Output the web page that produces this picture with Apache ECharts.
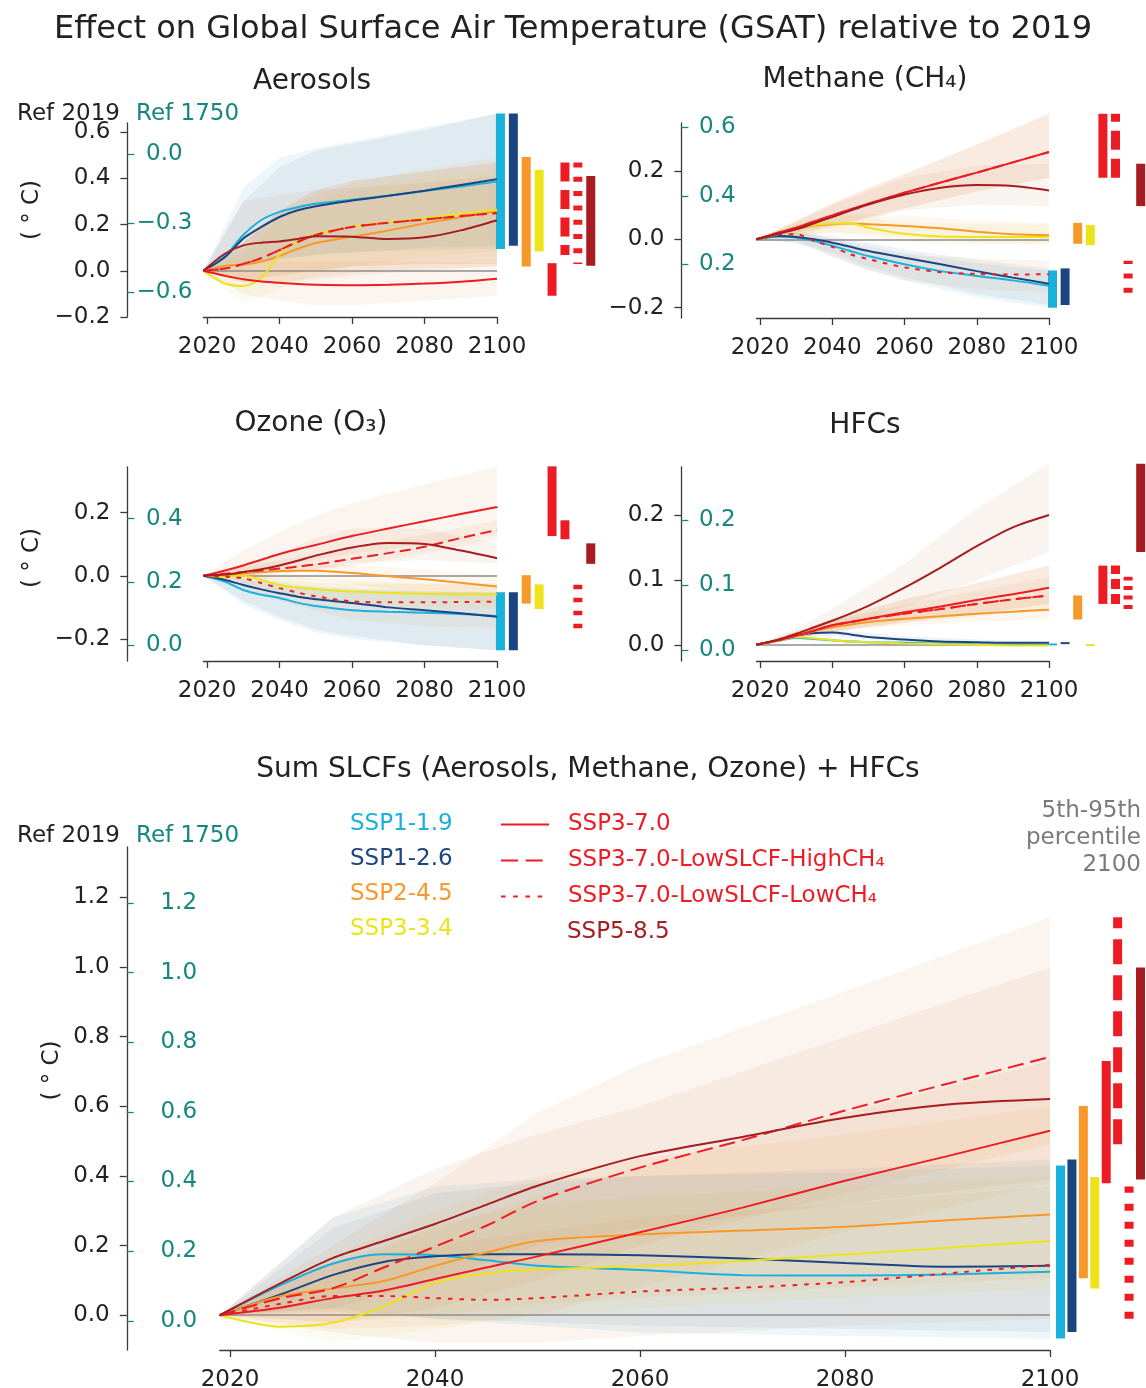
<!DOCTYPE html>
<html>
<head>
<meta charset="utf-8">
<script src="https://cdn.jsdelivr.net/npm/echarts@6/dist/echarts.min.js"></script>
<style>html,body{margin:0;padding:0;background:#fff}#c{width:1146px;height:1388px}</style>
</head>
<body>
<div id="c"></div>
<script>
// ---------------- DATA ----------------
const SCENARIOS = ['SSP1-1.9','SSP1-2.6','SSP2-4.5','SSP3-3.4','SSP3-7.0','SSP3-7.0-LowSLCF-HighCH\u2084','SSP3-7.0-LowSLCF-LowCH\u2084','SSP5-8.5'];
const YEARS = [2019,2025,2030,2035,2040,2045,2050,2060,2070,2080,2090,2100];
const BAND_YEARS = [2019,2030,2040,2050,2060,2080,2100];
const X_TICKS = [2020,2040,2060,2080,2100];

// Aerosols
const AER_LINES = [
 [0,0.065,0.155,0.22,0.255,0.275,0.29,0.308,0.325,0.345,0.365,0.387],
 [0,0.06,0.14,0.19,0.233,0.262,0.28,0.304,0.325,0.347,0.372,0.397],
 [0,0.022,0.027,0.04,0.065,0.095,0.12,0.147,0.175,0.205,0.232,0.259],
 [0,-0.055,-0.066,-0.03,0.07,0.13,0.158,0.19,0.21,0.228,0.247,0.264],
 [0,-0.022,-0.037,-0.046,-0.052,-0.057,-0.06,-0.062,-0.06,-0.055,-0.047,-0.034],
 [0,0.01,0.03,0.055,0.09,0.125,0.155,0.19,0.208,0.222,0.237,0.25],
 [0,0.01,0.03,0.055,0.09,0.125,0.155,0.19,0.208,0.222,0.237,0.25],
 [0,0.075,0.11,0.122,0.127,0.138,0.15,0.148,0.138,0.145,0.175,0.219]
];
const AER_BAND_HI = [
 [0,0.36,0.49,0.53,0.56,0.62,0.681],
 [0,0.3,0.45,0.52,0.55,0.61,0.681],
 [0,0.12,0.25,0.33,0.38,0.44,0.493],
 [0,0.08,0.22,0.3,0.35,0.4,0.437],
 [0,0.04,0.04,0.04,0.04,0.04,0.033],
 [0,0.12,0.26,0.35,0.39,0.43,0.469],
 [0,0.12,0.26,0.35,0.39,0.43,0.469],
 [0,0.3,0.33,0.35,0.36,0.38,0.41]
];
const AER_BAND_LO = [
 [0,0.03,0.05,0.07,0.08,0.09,0.094],
 [0,0.02,0.05,0.07,0.08,0.1,0.108],
 [0,-0.05,-0.05,-0.03,-0.01,0.01,0.019],
 [0,-0.14,-0.08,-0.02,0.02,0.06,0.084],
 [0,-0.1,-0.13,-0.15,-0.15,-0.13,-0.108],
 [0,-0.04,-0.02,0,0.02,0.03,0.03],
 [0,-0.04,-0.02,0,0.02,0.03,0.03],
 [0,-0.05,-0.05,-0.04,-0.02,0,0.022]
];
const AER_BAR_LO = [0.094,0.108,0.019,0.084,-0.108,0.068,0.029,0.022];
const AER_BAR_HI = [0.681,0.681,0.493,0.437,0.033,0.469,0.469,0.41];
const AER_YTICKS = [-0.2,0,0.2,0.4,0.6];
const AER_REF_TICKS = [-0.6,-0.3,0];
const AER_REF_OFFSET = -0.506;

// Methane
const CH4_LINES = [
 [0,0.008,0.005,-0.005,-0.019,-0.034,-0.049,-0.073,-0.093,-0.107,-0.12,-0.136],
 [0,0.01,0.007,0,-0.01,-0.022,-0.034,-0.054,-0.073,-0.093,-0.112,-0.13],
 [0,0.015,0.029,0.04,0.044,0.046,0.044,0.039,0.032,0.022,0.015,0.012],
 [0,0.018,0.034,0.042,0.046,0.047,0.034,0.016,0.008,0.007,0.007,0.007],
 [0,0.019,0.034,0.052,0.07,0.087,0.104,0.136,0.166,0.195,0.225,0.255],
 [0,0.019,0.034,0.052,0.07,0.087,0.104,0.136,0.166,0.195,0.225,0.255],
 [0,0.015,0.015,-0.005,-0.022,-0.044,-0.058,-0.082,-0.096,-0.101,-0.103,-0.102],
 [0,0.016,0.029,0.047,0.065,0.084,0.102,0.131,0.151,0.159,0.156,0.143]
];
const CH4_BAND_HI = [
 [0,0.02,0,-0.02,-0.04,-0.07,-0.091],
 [0,0.02,0.01,-0.01,-0.03,-0.06,-0.085],
 [0,0.045,0.07,0.075,0.07,0.055,0.048],
 [0,0.05,0.07,0.065,0.05,0.045,0.042],
 [0,0.055,0.105,0.15,0.19,0.277,0.367],
 [0,0.055,0.105,0.15,0.19,0.277,0.367],
 [0,0.03,0,-0.03,-0.045,-0.055,-0.063],
 [0,0.05,0.1,0.14,0.18,0.215,0.221]
];
const CH4_BAND_LO = [
 [0,-0.01,-0.05,-0.09,-0.12,-0.17,-0.2],
 [0,-0.01,-0.04,-0.08,-0.11,-0.16,-0.192],
 [0,0.01,0.02,0.015,0.005,-0.01,-0.013],
 [0,0.01,0.02,0.005,-0.01,-0.015,-0.017],
 [0,0.02,0.04,0.065,0.09,0.14,0.18],
 [0,0.02,0.04,0.065,0.09,0.14,0.18],
 [0,0,-0.05,-0.09,-0.12,-0.145,-0.156],
 [0,0.01,0.035,0.06,0.085,0.1,0.097]
];
const CH4_BAR_LO = [-0.2,-0.192,-0.013,-0.017,0.18,0.18,-0.156,0.097];
const CH4_BAR_HI = [-0.091,-0.085,0.048,0.042,0.367,0.367,-0.063,0.221];
const CH4_YTICKS = [-0.2,0,0.2];
const CH4_REF_TICKS = [0.2,0.4,0.6];
const CH4_REF_OFFSET = 0.273;

// Ozone
const O3_LINES = [
 [0,-0.019,-0.045,-0.06,-0.07,-0.085,-0.096,-0.109,-0.114,-0.117,-0.121,-0.127],
 [0,-0.013,-0.029,-0.043,-0.055,-0.066,-0.074,-0.086,-0.1,-0.109,-0.119,-0.13],
 [0,0.003,0.007,0.012,0.015,0.016,0.016,0.009,-0.001,-0.011,-0.022,-0.034],
 [0,-0.003,0,-0.013,-0.029,-0.037,-0.042,-0.05,-0.054,-0.057,-0.058,-0.058],
 [0,0.017,0.033,0.051,0.069,0.084,0.098,0.126,0.15,0.173,0.196,0.218],
 [0,0.007,0.012,0.017,0.023,0.029,0.036,0.054,0.072,0.092,0.12,0.145],
 [0,-0.003,-0.008,-0.023,-0.039,-0.053,-0.065,-0.081,-0.084,-0.084,-0.083,-0.082],
 [0,0.004,0.012,0.021,0.033,0.048,0.064,0.09,0.104,0.101,0.08,0.056]
];
const O3_BAND_HI = [
 [0,-0.01,-0.03,-0.04,-0.045,-0.05,-0.052],
 [0,-0.005,-0.02,-0.035,-0.04,-0.05,-0.052],
 [0,0.025,0.04,0.04,0.035,0.02,0.002],
 [0,0.015,0.005,-0.01,-0.015,-0.025,-0.027],
 [0,0.08,0.14,0.19,0.23,0.29,0.347],
 [0,0.03,0.05,0.07,0.09,0.13,0.176],
 [0,0.01,-0.01,-0.02,-0.025,-0.025,-0.024],
 [0,0.03,0.07,0.12,0.15,0.15,0.103]
];
const O3_BAND_LO = [
 [0,-0.09,-0.14,-0.18,-0.2,-0.22,-0.236],
 [0,-0.08,-0.13,-0.17,-0.19,-0.22,-0.236],
 [0,-0.01,-0.01,-0.015,-0.025,-0.06,-0.088],
 [0,-0.02,-0.06,-0.08,-0.09,-0.1,-0.105],
 [0,0.01,0.03,0.05,0.07,0.1,0.126],
 [0,0,0.01,0.02,0.03,0.07,0.116],
 [0,-0.04,-0.08,-0.11,-0.14,-0.16,-0.166],
 [0,0,0.01,0.02,0.04,0.05,0.038]
];
const O3_BAR_LO = [-0.236,-0.236,-0.088,-0.105,0.126,0.116,-0.166,0.038];
const O3_BAR_HI = [-0.052,-0.052,0.002,-0.027,0.347,0.176,-0.024,0.103];
const O3_YTICKS = [-0.2,0,0.2];
const O3_REF_TICKS = [0,0.2,0.4];
const O3_REF_OFFSET = 0.219;

// HFCs
const HFC_LINES = [
 [0,0.006,0.011,0.009,0.007,0.005,0.004,0.003,0.002,0.001,0,0],
 [0,0.007,0.014,0.018,0.019,0.016,0.012,0.008,0.005,0.004,0.003,0.003],
 [0,0.007,0.014,0.021,0.027,0.031,0.035,0.04,0.044,0.048,0.051,0.054],
 [0,0.006,0.012,0.01,0.007,0.005,0.004,0.002,0.001,0,-0.001,-0.001],
 [0,0.007,0.014,0.022,0.03,0.035,0.04,0.05,0.059,0.069,0.078,0.088],
 [0,0.007,0.014,0.022,0.03,0.035,0.04,0.048,0.055,0.063,0.07,0.076],
 [0,0.007,0.014,0.022,0.03,0.035,0.04,0.048,0.055,0.063,0.07,0.076],
 [0,0.008,0.017,0.027,0.037,0.048,0.06,0.088,0.119,0.152,0.181,0.2]
];
const HFC_BAND_HI = [
 [0,0.013,0.01,0.006,0.004,0.003,0.002],
 [0,0.016,0.022,0.018,0.013,0.008,0.004],
 [0,0.02,0.035,0.046,0.055,0.067,0.076],
 [0,0.014,0.009,0.005,0.003,0.002,0.001],
 [0,0.02,0.04,0.055,0.07,0.095,0.122],
 [0,0.02,0.04,0.055,0.07,0.095,0.122],
 [0,0.02,0.038,0.05,0.062,0.083,0.105],
 [0,0.025,0.055,0.09,0.125,0.21,0.279]
];
const HFC_BAND_LO = [
 [0,0.008,0.004,0.001,0,-0.001,-0.001],
 [0,0.01,0.014,0.008,0.004,0.001,0.001],
 [0,0.01,0.02,0.026,0.03,0.035,0.039],
 [0,0.008,0.004,0.001,0,-0.002,-0.002],
 [0,0.01,0.02,0.028,0.035,0.048,0.063],
 [0,0.01,0.02,0.028,0.035,0.048,0.063],
 [0,0.01,0.02,0.027,0.033,0.044,0.055],
 [0,0.01,0.025,0.04,0.058,0.1,0.143]
];
const HFC_BAR_LO = [-0.001,0.001,0.039,-0.002,0.063,0.063,0.055,0.143];
const HFC_BAR_HI = [0.002,0.004,0.076,0.001,0.122,0.122,0.105,0.279];
const HFC_YTICKS = [0,0.1,0.2];
const HFC_REF_TICKS = [0,0.1,0.2];
const HFC_REF_OFFSET = 0.008;

// Sum SLCFs + HFCs
const SUM_LINES = [
 [0,0.087,0.148,0.175,0.172,0.158,0.142,0.13,0.115,0.114,0.117,0.125],
 [0,0.06,0.115,0.153,0.169,0.175,0.175,0.172,0.163,0.15,0.139,0.142],
 [0,0.055,0.077,0.098,0.142,0.18,0.213,0.232,0.243,0.254,0.273,0.289],
 [0,-0.033,-0.022,0.025,0.093,0.12,0.131,0.141,0.156,0.174,0.194,0.213],
 [0,0.022,0.049,0.071,0.104,0.137,0.169,0.238,0.309,0.386,0.457,0.53],
 [0,0.049,0.077,0.137,0.197,0.257,0.328,0.424,0.503,0.588,0.665,0.742],
 [0,0.033,0.055,0.055,0.049,0.044,0.049,0.068,0.079,0.095,0.12,0.145],
 [0,0.093,0.164,0.213,0.262,0.317,0.372,0.457,0.512,0.567,0.605,0.621]
];
const SUM_BAND_HI = [
 [0,0.28,0.37,0.39,0.4,0.41,0.43],
 [0,0.25,0.35,0.38,0.4,0.42,0.447],
 [0,0.17,0.3,0.4,0.45,0.52,0.601],
 [0,0.12,0.26,0.32,0.34,0.37,0.397],
 [0,0.15,0.25,0.34,0.43,0.58,0.73],
 [0,0.2,0.38,0.58,0.72,0.93,1.143],
 [0,0.15,0.2,0.24,0.28,0.32,0.37],
 [0,0.28,0.42,0.52,0.6,0.8,0.999]
];
const SUM_BAND_LO = [
 [0,0.02,-0.01,-0.03,-0.05,-0.06,-0.067],
 [0,0.01,-0.01,-0.02,-0.03,-0.04,-0.048],
 [0,-0.02,0,0.03,0.05,0.08,0.106],
 [0,-0.08,-0.04,0,0.02,0.05,0.077],
 [0,-0.04,-0.03,0,0.08,0.24,0.379],
 [0,-0.02,0.02,0.1,0.2,0.35,0.491],
 [0,-0.05,-0.08,-0.08,-0.06,-0.03,-0.01],
 [0,0.02,0.1,0.2,0.25,0.32,0.39]
];
const SUM_BAR_LO = [-0.067,-0.048,0.106,0.077,0.379,0.491,-0.01,0.39];
const SUM_BAR_HI = [0.43,0.447,0.601,0.397,0.73,1.143,0.37,0.999];
const SUM_YTICKS = [0,0.2,0.4,0.6,0.8,1.0,1.2];
const SUM_REF_TICKS = [0,0.2,0.4,0.6,0.8,1.0,1.2];
const SUM_REF_OFFSET = 0.016;

// ---------------- STYLE / LAYOUT ----------------
const FONT = "'DejaVu Sans', 'Noto Sans', sans-serif";
const INK = '#222222';
const AXIS = '#3a3a3a';
const TEAL = '#15877f';
const GREY = '#7a7a7a';
const COLORS = ['#18b1dc','#1b4580','#f7992a','#ece31b','#ed1c24','#ed1c24','#ed1c24','#a61c21'];
const BAND_COLORS = ['#58acd5','#7a8fb0','#eea04a','#e0d040','#d9864a','#d9864a','#d9864a','#c47a55'];
const BAND_ALPHAS = [0.11,0.11,0.085,0.085,0.085,0.085,0.085,0.085];
const KIND = ['solid','solid','solid','solid','solid','dashed','dotted','solid'];

const PANELS = [
 {title:'Aerosols', lines:AER_LINES, bandHi:AER_BAND_HI, bandLo:AER_BAND_LO, barLo:AER_BAR_LO, barHi:AER_BAR_HI, yTicks:AER_YTICKS, refTicks:AER_REF_TICKS, refOffset:AER_REF_OFFSET,
  L:{tx:312, ty:68, left:203.4, width:293.6, top:123, height:194, ymin:-0.2, ymax:0.64, spine:76, barLeft:494.0, barWidth:103.2, unitName:true, nameGap:84, namePad:20, refMargin:37, lineDash:[11,5.5], dotDash:[4.5,6.5], barDash:[19,8.5], barDot:[5,9.3], fromTop:true, xMargin:19}},
 {title:'Methane (CH\u2084)', lines:CH4_LINES, bandHi:CH4_BAND_HI, bandLo:CH4_BAND_LO, barLo:CH4_BAR_LO, barHi:CH4_BAR_HI, yTicks:CH4_YTICKS, refTicks:CH4_REF_TICKS, refOffset:CH4_REF_OFFSET,
  L:{tx:865, ty:66, left:756.4, width:292.6, top:123, height:195, ymin:-0.23, ymax:0.34, spine:75, barLeft:1046.2, barWidth:100.8, unitName:false, refMargin:36, lineDash:[11,5.5], dotDash:[4.5,6.5], barDash:[19,9], barDot:[5,9.3], fromTop:false, xMargin:19}},
 {title:'Ozone (O\u2083)', lines:O3_LINES, bandHi:O3_BAND_HI, bandLo:O3_BAND_LO, barLo:O3_BAR_LO, barHi:O3_BAR_HI, yTicks:O3_YTICKS, refTicks:O3_REF_TICKS, refOffset:O3_REF_OFFSET,
  L:{tx:311, ty:410, left:203.4, width:293.6, top:467, height:194, ymin:-0.27, ymax:0.345, spine:76, barLeft:494.0, barWidth:103.2, unitName:true, nameGap:84, namePad:12, refMargin:37, lineDash:[11,5.5], dotDash:[4.5,6.5], barDash:[19,8.5], barDot:[4.5,8.5], fromTop:false, xMargin:19}},
 {title:'HFCs', lines:HFC_LINES, bandHi:HFC_BAND_HI, bandLo:HFC_BAND_LO, barLo:HFC_BAR_LO, barHi:HFC_BAR_HI, yTicks:HFC_YTICKS, refTicks:HFC_REF_TICKS, refOffset:HFC_REF_OFFSET,
  L:{tx:865, ty:412, left:756.4, width:292.6, top:467, height:194, ymin:-0.025, ymax:0.274, spine:75, barLeft:1046.2, barWidth:100.8, unitName:false, refMargin:36, lineDash:[11,5.5], dotDash:[4.5,6.5], barDash:[10,5], barDot:[4,5.5], fromTop:false, xMargin:19}},
 {title:'Sum SLCFs (Aerosols, Methane, Ozone) + HFCs', lines:SUM_LINES, bandHi:SUM_BAND_HI, bandLo:SUM_BAND_LO, barLo:SUM_BAR_LO, barHi:SUM_BAR_HI, yTicks:SUM_YTICKS, refTicks:SUM_REF_TICKS, refOffset:SUM_REF_OFFSET,
  L:{tx:588, ty:756, left:219.75, width:830.25, top:847, height:503, ymin:-0.1, ymax:1.345, spine:93, barLeft:1054.8, barWidth:91.4, unitName:true, nameGap:63, namePad:56, refMargin:52, lineDash:[16,7], dotDash:[4.5,7], barDash:[25,11], barDot:[7,11], fromTop:false, xMargin:19}}
];

function fmt(v){ v = Math.round(v*1000)/1000; if (Math.abs(v) < 1e-9) v = 0; return v.toFixed(1).replace('-', '\u2212'); }
function rgba(hex, a){ const n = parseInt(hex.slice(1),16); return 'rgba(' + ((n>>16)&255) + ',' + ((n>>8)&255) + ',' + (n&255) + ',' + a + ')'; }

const option = {
  animation:false,
  backgroundColor:'#ffffff',
  textStyle:{fontFamily:FONT},
  title:[
    {text:'Effect on Global Surface Air Temperature (GSAT) relative to 2019', left:573, top:14, textAlign:'center', padding:0,
     textStyle:{fontSize:32, fontWeight:'normal', color:INK, fontFamily:FONT}},
    {text:'Ref 2019', left:120, top:103, textAlign:'right', padding:0, textStyle:{fontSize:23, fontWeight:'normal', color:INK, fontFamily:FONT}},
    {text:'Ref 1750', left:136, top:103, textAlign:'left', padding:0, textStyle:{fontSize:23, fontWeight:'normal', color:TEAL, fontFamily:FONT}},
    {text:'Ref 2019', left:120, top:825, textAlign:'right', padding:0, textStyle:{fontSize:23, fontWeight:'normal', color:INK, fontFamily:FONT}},
    {text:'Ref 1750', left:136, top:825, textAlign:'left', padding:0, textStyle:{fontSize:23, fontWeight:'normal', color:TEAL, fontFamily:FONT}},
    {text:'5th-95th\npercentile\n2100', left:1141, top:798, textAlign:'right', padding:0,
     textStyle:{fontSize:23, lineHeight:27, fontWeight:'normal', color:GREY, fontFamily:FONT, align:'right'}}
  ],
  legend:[
    {left:345, top:813, orient:'vertical', icon:'rect', itemWidth:0, itemHeight:0, itemGap:11.7, selectedMode:false, padding:0,
     textStyle:{fontSize:23, lineHeight:23, fontFamily:FONT},
     data:[0,1,2,3].map(i=>({name:SCENARIOS[i], textStyle:{color:COLORS[i]}}))},
    {left:500, top:813, orient:'vertical', itemWidth:48, itemHeight:14, itemGap:13, selectedMode:false, padding:0,
     textStyle:{fontSize:23, lineHeight:23, fontFamily:FONT, padding:[0,0,0,14]},
     data:[4,5,6].map(i=>({name:SCENARIOS[i], textStyle:{color:COLORS[i]},
        itemStyle:{color:'rgba(0,0,0,0)', borderWidth:0, opacity:0},
        lineStyle:{width:2, color:COLORS[i], opacity:1, type: KIND[i]==='dashed' ? [17,7.6] : (KIND[i]==='dotted' ? [4.6,7.6] : 'solid')}}))},
    {left:562, top:921, orient:'vertical', icon:'rect', itemWidth:0, itemHeight:0, selectedMode:false, padding:0,
     textStyle:{fontSize:23, lineHeight:23, fontFamily:FONT},
     data:[{name:SCENARIOS[7], textStyle:{color:COLORS[7]}}]}
  ],
  grid:[], xAxis:[], yAxis:[], series:[]
};

PANELS.forEach((P, p) => {
  const L = P.L;
  option.title.push({text:P.title, left:L.tx, top:L.ty, textAlign:'center', padding:0,
    textStyle:{fontSize:28, fontWeight:'normal', color:INK, fontFamily:FONT}});
  option.grid.push({left:L.left, top:L.top, width:L.width, height:L.height, containLabel:false, outerBoundsMode:'none'});
  option.grid.push({left:L.barLeft, top:L.top, width:L.barWidth, height:L.height, containLabel:false, outerBoundsMode:'none'});
  const xi = option.xAxis.length, yi = option.yAxis.length;
  option.xAxis.push({gridIndex:2*p, type:'value', min:YEARS[0], max:YEARS[YEARS.length-1],
    axisLine:{show:true, onZero:false, lineStyle:{color:AXIS, width:1.3}},
    axisTick:{show:true, length:7, lineStyle:{color:AXIS, width:1.3}, customValues:X_TICKS},
    axisLabel:{show:true, customValues:X_TICKS, formatter:v=>String(Math.round(v)), fontSize:23, color:INK, margin:L.xMargin, fontFamily:FONT},
    splitLine:{show:false}});
  option.xAxis.push({gridIndex:2*p+1, type:'value', min:-0.5, max:7.5, show:false});
  option.yAxis.push({gridIndex:2*p, type:'value', min:L.ymin, max:L.ymax, position:'left', offset:L.spine,
    axisLine:{show:true, onZero:false, lineStyle:{color:AXIS, width:1.3}},
    axisTick:{show:true, length:7, lineStyle:{color:AXIS, width:1.3}, customValues:P.yTicks},
    axisLabel:{show:true, customValues:P.yTicks, formatter:fmt, fontSize:23, color:INK, margin:17, fontFamily:FONT},
    splitLine:{show:false},
    name: L.unitName ? '( \u00b0 C)' : '', nameLocation:'middle', nameGap:L.nameGap || 80, nameMoveOverlap:false,
    nameTextStyle:{fontSize:23, color:INK, fontFamily:FONT, padding:[0,0,0,L.namePad || 0]}});
  option.yAxis.push({gridIndex:2*p, type:'value', min:L.ymin + P.refOffset, max:L.ymax + P.refOffset, position:'left', offset:L.spine,
    axisLine:{show:false, onZero:false},
    axisTick:{show:true, inside:true, length:7, lineStyle:{color:TEAL, width:1.3}, customValues:P.refTicks},
    axisLabel:{show:true, inside:true, align:'center', customValues:P.refTicks, formatter:fmt, fontSize:23, color:TEAL, margin:L.refMargin, fontFamily:FONT},
    splitLine:{show:false}});
  option.yAxis.push({gridIndex:2*p+1, type:'value', min:L.ymin, max:L.ymax, show:false});

  // uncertainty bands (5th-95th percentile ranges over time)
  option.series.push({
    type:'custom', name:'bands'+p, xAxisIndex:xi, yAxisIndex:yi, silent:true, z:1, clip:false,
    data: SCENARIOS.map((n,i)=>[BAND_YEARS[BAND_YEARS.length-1], P.bandHi[i][BAND_YEARS.length-1]]),
    renderItem:(params, api) => {
      const i = params.dataIndex;
      const pts = [];
      BAND_YEARS.forEach((yr,k)=>pts.push(api.coord([yr, P.bandHi[i][k]])));
      for (let k = BAND_YEARS.length-1; k >= 0; k--) pts.push(api.coord([BAND_YEARS[k], P.bandLo[i][k]]));
      return {type:'polygon', shape:{points:pts}, style:{fill:rgba(BAND_COLORS[i], BAND_ALPHAS[i]), stroke:null}};
    },
    markLine:{silent:true, symbol:'none', z:2, label:{show:false}, lineStyle:{color:'#8e8e8e', width:1.6, type:'solid'}, data:[{yAxis:0}]}
  });

  // central lines
  SCENARIOS.forEach((name, i) => {
    const type = KIND[i]==='dashed' ? L.lineDash : (KIND[i]==='dotted' ? L.dotDash : 'solid');
    option.series.push({
      type:'line', name, xAxisIndex:xi, yAxisIndex:yi, z:3, silent:true,
      data: YEARS.map((yr,k)=>[yr, P.lines[i][k]]),
      smooth:0.3, showSymbol:false, symbol:'none',
      lineStyle:{color:COLORS[i], width:2, type},
      itemStyle:{color:COLORS[i]}
    });
  });

  // 2100 5th-95th percentile bars
  option.series.push({
    type:'custom', name:'bars'+p, xAxisIndex:xi+1, yAxisIndex:yi+2, silent:true, clip:false, z:3,
    data: SCENARIOS.map((n,i)=>[i, P.barLo[i], P.barHi[i]]),
    encode:{x:0, y:[1,2]},
    renderItem:(params, api) => {
      const i = api.value(0);
      const a = api.coord([i, api.value(1)]);
      const b = api.coord([i, api.value(2)]);
      const s = L.fromTop ? b : a, e = L.fromTop ? a : b;
      const dash = KIND[i]==='dashed' ? L.barDash : (KIND[i]==='dotted' ? L.barDot : null);
      return {type:'line', shape:{x1:s[0], y1:s[1], x2:e[0], y2:e[1]},
        style:{stroke:COLORS[i], lineWidth:9, lineDash:dash, lineCap:'butt'}};
    }
  });
});

const chart = echarts.init(document.getElementById('c'), null, {renderer:'canvas'});
chart.setOption(option);
</script>
</body>
</html>
